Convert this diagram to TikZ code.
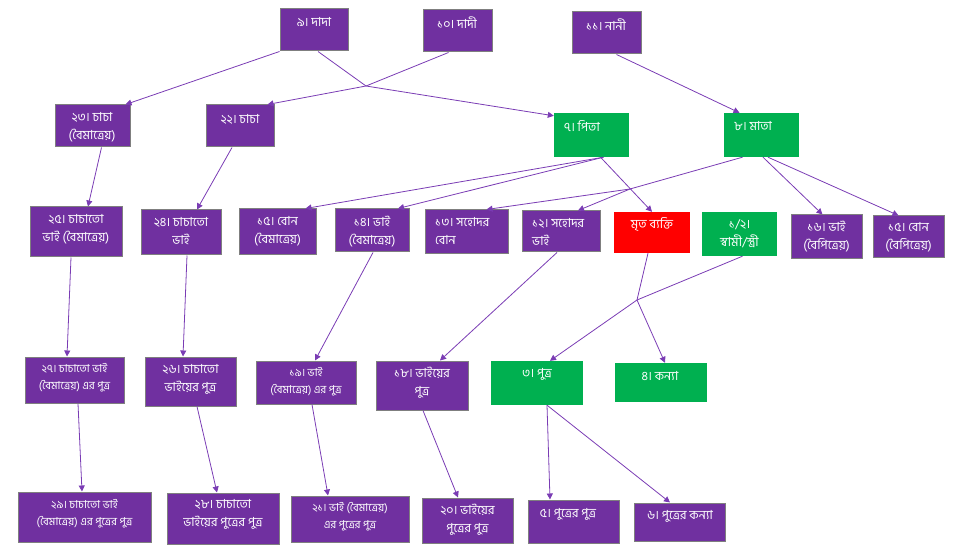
\documentclass[tikz,border=0pt]{standalone}
\usepackage{fontspec}
\newfontfamily\bn[Script=Bengali]{Hind Siliguri}
\usetikzlibrary{arrows.meta,fit,calc}
\definecolor{pur}{RGB}{112,48,160}
\definecolor{grn}{RGB}{0,176,80}
\definecolor{rd}{RGB}{255,0,0}
\definecolor{bord}{RGB}{127,127,127}
\definecolor{edgec}{RGB}{122,60,180}
\begin{document}
\begin{tikzpicture}[x=1pt,y=-1pt,
 pbox/.style={fill=pur,draw=bord,line width=1pt,inner sep=0pt},
 gbox/.style={fill=grn,inner sep=0pt},
 rbox/.style={fill=rd,inner sep=0pt},
 txt/.style={text=white,font=\bn\fontsize{12.5}{18}\selectfont,align=center,inner sep=0pt},
 stxt/.style={text=white,font=\bn\fontsize{11}{17}\selectfont,align=center,inner sep=0pt},
 conn/.style={draw=edgec,line width=0.8pt,-{Triangle[length=6pt,width=6pt]}}]
\useasboundingbox (0,0) rectangle (975,556);
% boxes
\node[pbox,fit={(280,9) (348,51)}] (n9) {};
\node[pbox,fit={(423,10) (492,52)}] (n10) {};
\node[pbox,fit={(572,12) (641,54)}] (n11) {};
\node[pbox,fit={(55,105) (130,147)}] (n23) {};
\node[pbox,fit={(206,105) (274,147)}] (n22) {};
\node[gbox,fit={(554,113) (629,157)}] (n7) {};
\node[gbox,fit={(724,113) (799,157)}] (n8) {};
\node[pbox,fit={(30,207) (122,257)}] (n25) {};
\node[pbox,fit={(141,210) (221,255)}] (n24) {};
\node[pbox,fit={(239,209) (316,255)}] (n15) {};
\node[pbox,fit={(335,209) (409,252)}] (n14) {};
\node[pbox,fit={(425,210) (508,254)}] (n13) {};
\node[pbox,fit={(522,211) (600,252)}] (n12) {};
\node[rbox,fit={(614,212) (690,253)}] (nM) {};
\node[gbox,fit={(702,212) (777,256)}] (nS) {};
\node[pbox,fit={(791,215) (862,259)}] (n16) {};
\node[pbox,fit={(873,216) (944,258)}] (n15b) {};
\node[pbox,fit={(25,357) (124,403)}] (n27) {};
\node[pbox,fit={(145,357) (236,406)}] (n26) {};
\node[pbox,fit={(256,361) (356,404)}] (n19) {};
\node[pbox,fit={(376,361) (468,410)}] (n18) {};
\node[gbox,fit={(491,361) (583,405)}] (n3) {};
\node[gbox,fit={(615,363) (707,402)}] (n4) {};
\node[pbox,fit={(18,492) (151,542)}] (n29) {};
\node[pbox,fit={(167,493) (279,544)}] (n28) {};
\node[pbox,fit={(291,496) (409,542)}] (n21) {};
\node[pbox,fit={(422,498) (513,543)}] (n20) {};
\node[pbox,fit={(528,500) (619,543)}] (n5) {};
\node[pbox,fit={(634,503) (725,541)}] (n6) {};
% texts
\node[txt] (t9) at (314,22) {৯। দাদা};
\node[txt] (t10) at (457,23) {১০। দাদী};
\node[txt] (t11) at (606,25) {১১। নানী};
\node[txt] (t23) at (92,127) {২৩। চাচা\\(বৈমাত্রেয়)};
\node[txt] (t22) at (240,119) {২২। চাচা};
\node[txt,anchor=west] (t7) at (564,126) {৭। পিতা};
\node[txt,anchor=west] (t8) at (734,126) {৮। মাতা};
\node[txt] (t25) at (76,229) {২৫। চাচাতো\\ভাই (বৈমাত্রেয়)};
\node[txt] (t24) at (181,231.5) {২৪। চাচাতো\\ভাই};
\node[txt] (t15) at (277.5,231.5) {১৫। বোন\\(বৈমাত্রেয়)};
\node[txt] (t14) at (372,231.5) {১৪। ভাই\\(বৈমাত্রেয়)};
\node[txt,anchor=west,align=left] (t13) at (435,231.5) {১৩। সহোদর\\বোন};
\node[txt,anchor=west,align=left] (t12) at (532,232) {১২। সহোদর\\ভাই};
\node[txt] (tM) at (652,225) {মৃত ব্যক্তি};
\node[txt] (tS) at (739.5,233.5) {১/২।\\স্বামী/স্ত্রী};
\node[txt] (t16) at (826.5,236.5) {১৬। ভাই\\(বৈপিত্রেয়)};
\node[txt] (t15b) at (908.5,237.5) {১৫। বোন\\(বৈপিত্রেয়)};
\node[stxt] (t27) at (74.5,378) {২৭। চাচাতো ভাই\\(বৈমাত্রেয়) এর পুত্র};
\node[txt] (t26) at (190.5,379.5) {২৬। চাচাতো\\ভাইয়ের পুত্র};
\node[stxt] (t19) at (306,382) {১৯। ভাই\\(বৈমাত্রেয়) এর পুত্র};
\node[txt] (t18) at (422,383) {১৮। ভাইয়ের\\পুত্র};
\node[txt] (t3) at (537,374) {৩। পুত্র};
\node[txt] (t4) at (660,376) {৪। কন্যা};
\node[stxt] (t29) at (84.5,513.5) {২৯। চাচাতো ভাই\\(বৈমাত্রেয়) এর পুত্রের পুত্র};
\node[txt] (t28) at (223,514.5) {২৮। চাচাতো\\ভাইয়ের পুত্রের পুত্র};
\node[stxt] (t21) at (350,517) {২১। ভাই (বৈমাত্রেয়)\\এর পুত্রের পুত্র};
\node[txt] (t20) at (467.5,520) {২০। ভাইয়ের\\পুত্রের পুত্র};
\node[txt] (t5) at (568,514) {৫। পুত্রের পুত্র};
\node[txt] (t6) at (680,516) {৬। পুত্রের কন্যা};
% junctions
\coordinate (J1) at (366,86);
\coordinate (J2) at (630,189);
\coordinate (J4) at (637,300);
% connectors
\draw[conn] (n9.south west) -- ([xshift=-5pt]n23.north east);
\draw[conn] ([xshift=4pt]n9.south) -- (J1) -- ([yshift=-3pt]n7.north west);
\draw[conn] ([xshift=-9pt]n10.south) -- (J1) -- ([xshift=-7pt]n22.north east);
\draw[conn] ([xshift=10pt]n11.south) -- ([xshift=-22pt]n8.north);
\draw[conn] ([xshift=9pt]n7.south) -- (nM.north);
\draw[conn] ([xshift=12pt]n7.south) -- ([xshift=28pt]n15.north);
\draw[conn] ([xshift=12pt]n7.south) -- ([xshift=26pt]n14.north);
\draw[conn] ([xshift=-19pt]n8.south) -- (J2) -- ([xshift=20pt]n13.north);
\draw[conn] (J2) -- ([xshift=17pt]n12.north);
\draw[conn] ([xshift=1.5pt]n8.south) -- ([xshift=-4pt]n16.north);
\draw[conn] ([xshift=6.5pt]n8.south) -- ([xshift=-10pt]n15b.north);
\draw[conn] ([xshift=9pt]n23.south) -- ([xshift=12pt]n25.north);
\draw[conn] ([xshift=-8pt]n22.south) -- ([xshift=16pt]n24.north);
\draw[conn] ([xshift=-5pt]n25.south) -- ([xshift=-7.5pt]n27.north);
\draw[conn] ([xshift=6pt]n24.south) -- ([xshift=-7.5pt]n26.north);
\draw[conn] ([xshift=1pt]n14.south) -- ([xshift=9pt]n19.north);
\draw[conn] ([xshift=-4pt]n12.south) -- ([xshift=18pt]n18.north);
\draw[edgec,line width=0.8pt] ([xshift=-4pt]nM.south) -- (J4);
\draw[edgec,line width=0.8pt] ([xshift=3pt]nS.south) -- (J4);
\draw[conn] (J4) -- ([xshift=13pt]n3.north);
\draw[conn] (J4) -- ([xshift=4pt]n4.north);
\draw[conn] ([xshift=3.5pt]n27.south) -- ([xshift=-2.5pt]n29.north);
\draw[conn] ([xshift=6.5pt]n26.south) -- ([xshift=-6pt]n28.north);
\draw[conn] ([xshift=6pt]n19.south) -- ([xshift=-22pt]n21.north);
\draw[conn] ([xshift=1pt]n18.south) -- ([xshift=-9.5pt]n20.north);
\draw[conn] ([xshift=10pt]n3.south) -- ([xshift=-23.5pt]n5.north);
\draw[conn] ([xshift=10pt]n3.south) -- ([xshift=-9.5pt]n6.north);
\end{tikzpicture}
\end{document}
